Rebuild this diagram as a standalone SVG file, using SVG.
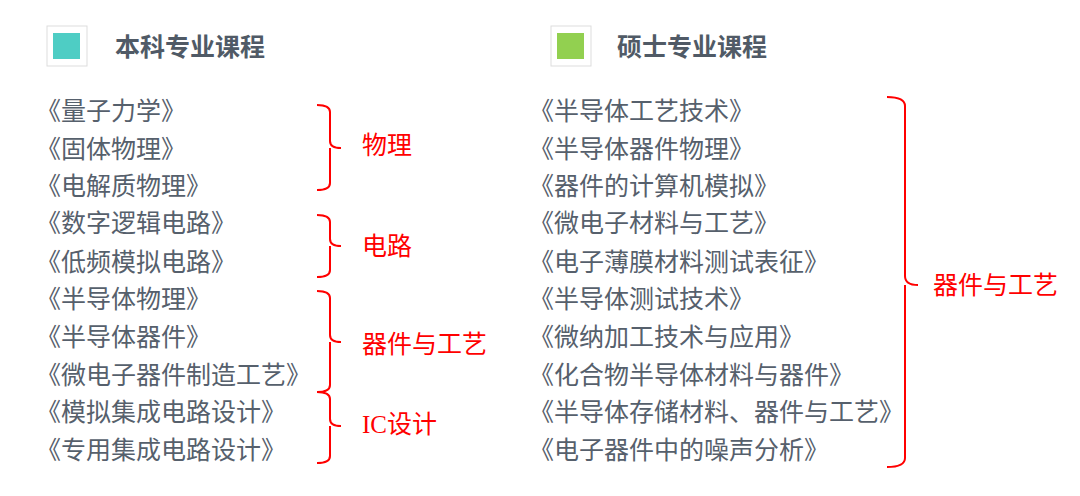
<svg xmlns="http://www.w3.org/2000/svg" width="1080" height="496" viewBox="0 0 1080 496">
<style>
.c{font-family:"Noto Sans CJK SC","Noto Sans",sans-serif;font-size:25px;fill:#56606C}
.h{font-family:"Noto Sans CJK SC","Noto Sans",sans-serif;font-size:25px;font-weight:bold;fill:#505A66}
.r{font-family:"Noto Sans CJK SC","Noto Sans",sans-serif;font-size:25px;fill:#FF0000}
.b{fill:none;stroke:#FF0000;stroke-width:2}
</style>
<rect width="1080" height="496" fill="#fff"/>
<g id="legend1"><rect x="47" y="26" width="40" height="40" fill="#fff" stroke="#DDD"/><rect x="53" y="33" width="27" height="26" fill="#4ECDC4"/><text class="h" x="115" y="56">本科专业课程</text></g>
<g id="legend2"><rect x="551" y="26" width="40" height="40" fill="#fff" stroke="#DDD"/><rect x="557" y="33" width="27" height="26" fill="#92D050"/><text class="h" x="617" y="56">硕士专业课程</text></g>
<g id="left" class="c">
<text x="36" y="120">《量子力学》</text>
<text x="36" y="158">《固体物理》</text>
<text x="36" y="195">《电解质物理》</text>
<text x="36" y="232">《数字逻辑电路》</text>
<text x="36" y="271">《低频模拟电路》</text>
<text x="36" y="308">《半导体物理》</text>
<text x="36" y="346">《半导体器件》</text>
<text x="36" y="384">《微电子器件制造工艺》</text>
<text x="36" y="421">《模拟集成电路设计》</text>
<text x="36" y="459">《专用集成电路设计》</text>
</g>
<g id="right" class="c">
<text x="529" y="120">《半导体工艺技术》</text>
<text x="529" y="158">《半导体器件物理》</text>
<text x="529" y="195">《器件的计算机模拟》</text>
<text x="529" y="232">《微电子材料与工艺》</text>
<text x="529" y="271">《电子薄膜材料测试表征》</text>
<text x="529" y="308">《半导体测试技术》</text>
<text x="529" y="346">《微纳加工技术与应用》</text>
<text x="529" y="384">《化合物半导体材料与器件》</text>
<text x="529" y="421">《半导体存储材料、器件与工艺》</text>
<text x="529" y="459">《电子器件中的噪声分析》</text>
</g>
<g id="connectors">
<path class="b" d="M317,105 Q330,105 330,112 V141 Q330,148 341,148 M330,148 Q330,148 330,155 V183 Q330,190 317,190"/>
<path class="b" d="M317,215 Q330,215 330,222 V239 Q330,246 341,246 M330,246 V270 Q330,277 317,277"/>
<path class="b" d="M317,291 Q330,291 330,298 V335 Q330,342 341,342 M330,342 V385 Q330,392 317,392"/>
<path class="b" d="M317,392 Q330,392 330,399 V419 Q330,426 341,426 M330,426 V456 Q330,463 317,463"/>
<path class="b" d="M887,97 Q905,97 905,106 V276 Q905,285 918,285 M905,285 V458 Q905,467 887,467"/>
</g>
<g id="labels" class="r">
<text x="362" y="154">物理</text>
<text x="362" y="255">电路</text>
<text x="362" y="353">器件与工艺</text>
<text x="362" y="433"><tspan font-family="Liberation Serif">IC</tspan>设计</text>
<text x="933" y="294">器件与工艺</text>
</g>
</svg>
